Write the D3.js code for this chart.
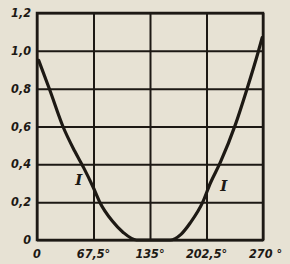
<!DOCTYPE html>
<html>
<head>
<meta charset="utf-8">
<script src="https://cdn.jsdelivr.net/npm/d3@7"></script>
<style>
  body { margin: 0; background: #e7e2d4; }
  svg { display: block; }
</style>
</head>
<body>
<div id="wrapper"></div>
<script>
// angle in degrees, value
const angles = [2, 15.5, 31, 45, 56, 67, 75, 90, 103, 119, 135, 159, 172, 183, 198, 207, 219, 237, 251, 264, 269];
const values = [0.95, 0.79, 0.6, 0.47, 0.38, 0.28, 0.2, 0.1, 0.04, 0, 0, 0, 0.03, 0.09, 0.2, 0.3, 0.41, 0.61, 0.8, 0.99, 1.07];

const xTicks = [0, 67.5, 135, 202.5, 270];
const xTickLabels = ["0", "67,5°", "135°", "202,5°", "270 °"];
const yTicks = [0, 0.2, 0.4, 0.6, 0.8, 1.0, 1.2];
const yTickLabels = ["0", "0,2", "0,4", "0,6", "0,8", "1,0", "1,2"];

const curveLabels = ["I", "I"];
const curveLabelAt = [[50, 0.29], [223, 0.26]];

const dimensions = {
  width: 290,
  height: 264,
  margin: { top: 13, right: 27, bottom: 24, left: 37 }
};
dimensions.boundedWidth = dimensions.width - dimensions.margin.left - dimensions.margin.right;
dimensions.boundedHeight = dimensions.height - dimensions.margin.top - dimensions.margin.bottom;

const ink = "#1d1914";

const svg = d3.select("#wrapper")
  .append("svg")
  .attr("width", dimensions.width)
  .attr("height", dimensions.height);

svg.append("rect")
  .attr("width", dimensions.width)
  .attr("height", dimensions.height)
  .attr("fill", "#e7e2d4");

const bounds = svg.append("g")
  .attr("transform", `translate(${dimensions.margin.left},${dimensions.margin.top})`);

const xScale = d3.scaleLinear()
  .domain([0, 270])
  .range([0, dimensions.boundedWidth]);

const yScale = d3.scaleLinear()
  .domain([0, 1.2])
  .range([dimensions.boundedHeight, 0]);

// grid
const xGrid = bounds.append("g")
  .attr("transform", `translate(0,${dimensions.boundedHeight})`)
  .call(d3.axisBottom(xScale).tickValues(xTicks).tickSize(-dimensions.boundedHeight).tickFormat(""));
xGrid.select(".domain").remove();
xGrid.selectAll("line").attr("stroke", ink).attr("stroke-width", 2);

const yGrid = bounds.append("g")
  .call(d3.axisLeft(yScale).tickValues(yTicks).tickSize(-dimensions.boundedWidth).tickFormat(""));
yGrid.select(".domain").remove();
yGrid.selectAll("line").attr("stroke", ink).attr("stroke-width", 2);

// frame
bounds.append("rect")
  .attr("width", dimensions.boundedWidth)
  .attr("height", dimensions.boundedHeight)
  .attr("fill", "none")
  .attr("stroke", ink)
  .attr("stroke-width", 2.5);

// tick labels
const labelFont = "'Liberation Sans Narrow', 'DejaVu Sans Condensed', sans-serif";

bounds.append("g")
  .selectAll("text")
  .data(xTicks)
  .join("text")
  .attr("x", d => xScale(d))
  .attr("y", dimensions.boundedHeight + 18)
  .attr("text-anchor", (d, i) => i === xTicks.length - 1 ? "start" : "middle")
  .attr("dx", (d, i) => i === xTicks.length - 1 ? -14 : 0)
  .attr("fill", ink)
  .style("font-family", labelFont)
  .style("font-size", "12.5px")
  .style("font-weight", "bold")
  .style("font-style", "italic")
  .text((d, i) => xTickLabels[i]);

bounds.append("g")
  .selectAll("text")
  .data(yTicks)
  .join("text")
  .attr("x", -6)
  .attr("y", d => yScale(d) + 4)
  .attr("text-anchor", "end")
  .attr("fill", ink)
  .style("font-family", labelFont)
  .style("font-size", "12.5px")
  .style("font-weight", "bold")
  .style("font-style", "italic")
  .text((d, i) => yTickLabels[i]);

// curve
const lineGenerator = d3.line()
  .x(d => xScale(d[0]))
  .y(d => yScale(d[1]))
  .curve(d3.curveMonotoneX);

bounds.append("path")
  .datum(d3.zip(angles, values))
  .attr("d", lineGenerator)
  .attr("fill", "none")
  .attr("stroke", ink)
  .attr("stroke-width", 3.2)
  .attr("stroke-linecap", "round");

// curve labels
bounds.append("g")
  .selectAll("text")
  .data(curveLabelAt)
  .join("text")
  .attr("x", d => xScale(d[0]))
  .attr("y", d => yScale(d[1]))
  .attr("text-anchor", "middle")
  .attr("fill", ink)
  .style("font-family", "'DejaVu Serif', serif")
  .style("font-size", "15px")
  .style("font-weight", "bold")
  .style("font-style", "italic")
  .text((d, i) => curveLabels[i]);
</script>
</body>
</html>
